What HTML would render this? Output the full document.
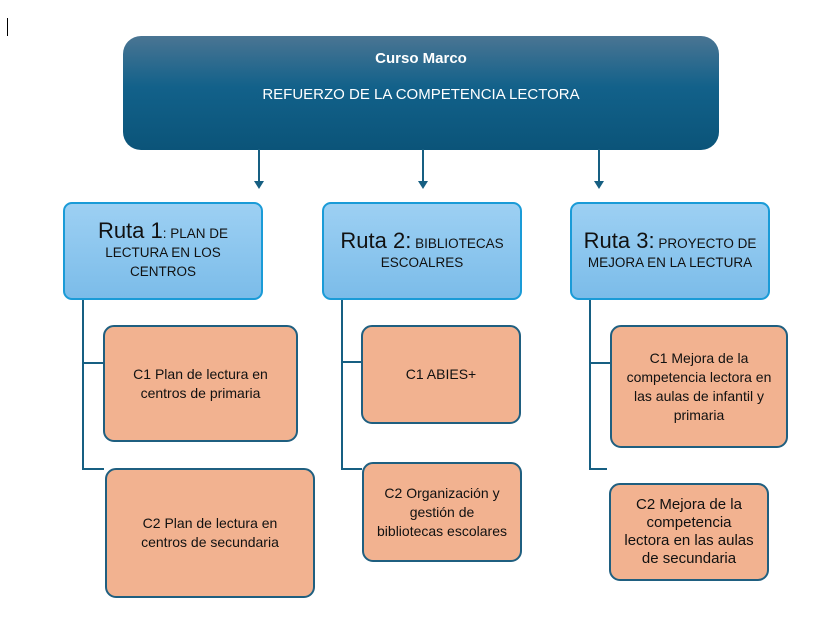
<!DOCTYPE html>
<html><head><meta charset="utf-8"><style>
body{margin:0;width:831px;height:634px;background:#fff;position:relative;overflow:hidden;font-family:"Liberation Sans",sans-serif;}
.b{position:absolute;box-sizing:border-box;display:flex;align-items:center;justify-content:center;text-align:center;color:#111;white-space:nowrap;}
.top{left:123px;top:36px;width:596px;height:114px;border-radius:18px;background:linear-gradient(#4a7593 0%,#12618a 45%,#0b5479 100%);color:#fff;flex-direction:column;justify-content:flex-start;}
.r{top:202px;height:98px;width:200px;border:2px solid #1a9bd7;border-radius:9px;background:linear-gradient(#9dd0f3,#7bbce9);font-size:13.5px;line-height:19px;padding:0 4px;}
.r .big{font-size:22px;}
.c{border:2px solid #1f5f80;border-radius:11px;background:#f2b290;font-size:14px;line-height:19px;padding:0 4px;}
</style></head><body>
<div style="position:absolute;left:7px;top:18px;width:1px;height:18px;background:#000"></div>
<div class="b top"><div style="font-weight:bold;font-size:15px;margin-top:14px">Curso Marco</div><div style="font-size:15px;margin-top:19px">REFUERZO DE LA COMPETENCIA LECTORA</div></div>
<svg width="831" height="634" style="position:absolute;left:0;top:0">
<g stroke="#165f82" stroke-width="2" fill="none">
<line x1="259" y1="149" x2="259" y2="182"/><line x1="423" y1="149" x2="423" y2="182"/><line x1="599" y1="149" x2="599" y2="182"/>
<polyline points="83,299 83,469 104,469"/><line x1="83" y1="363" x2="104" y2="363"/>
<polyline points="342,299 342,469 362,469"/><line x1="342" y1="362" x2="362" y2="362"/>
<polyline points="590,299 590,469 607,469"/><line x1="590" y1="363" x2="610" y2="363"/>
</g>
<g fill="#165f82"><polygon points="254,181 264,181 259,189"/><polygon points="418,181 428,181 423,189"/><polygon points="594,181 604,181 599,189"/></g>
</svg>
<div class="b r" style="left:63px"><div><span class="big">Ruta 1</span>: PLAN DE<br>LECTURA EN LOS<br>CENTROS</div></div>
<div class="b r" style="left:322px"><div><span class="big">Ruta 2:</span> BIBLIOTECAS<br>ESCOALRES</div></div>
<div class="b r" style="left:570px"><div><span class="big">Ruta 3:</span> PROYECTO DE<br>MEJORA EN LA LECTURA</div></div>
<div class="b c" style="left:103px;top:325px;width:195px;height:117px"><div>C1 Plan de lectura en<br>centros de primaria</div></div>
<div class="b c" style="left:105px;top:468px;width:210px;height:130px"><div>C2 Plan de lectura en<br>centros de secundaria</div></div>
<div class="b c" style="left:361px;top:325px;width:160px;height:99px">C1 ABIES+</div>
<div class="b c" style="left:362px;top:462px;width:160px;height:100px"><div>C2 Organización y<br>gestión de<br>bibliotecas escolares</div></div>
<div class="b c" style="left:610px;top:325px;width:178px;height:123px"><div>C1 Mejora de la<br>competencia lectora en<br>las aulas de infantil y<br>primaria</div></div>
<div class="b c" style="left:609px;top:483px;width:160px;height:98px;font-size:15px;line-height:18px"><div>C2 Mejora de la<br>competencia<br>lectora en las aulas<br>de secundaria</div></div>
</body></html>
